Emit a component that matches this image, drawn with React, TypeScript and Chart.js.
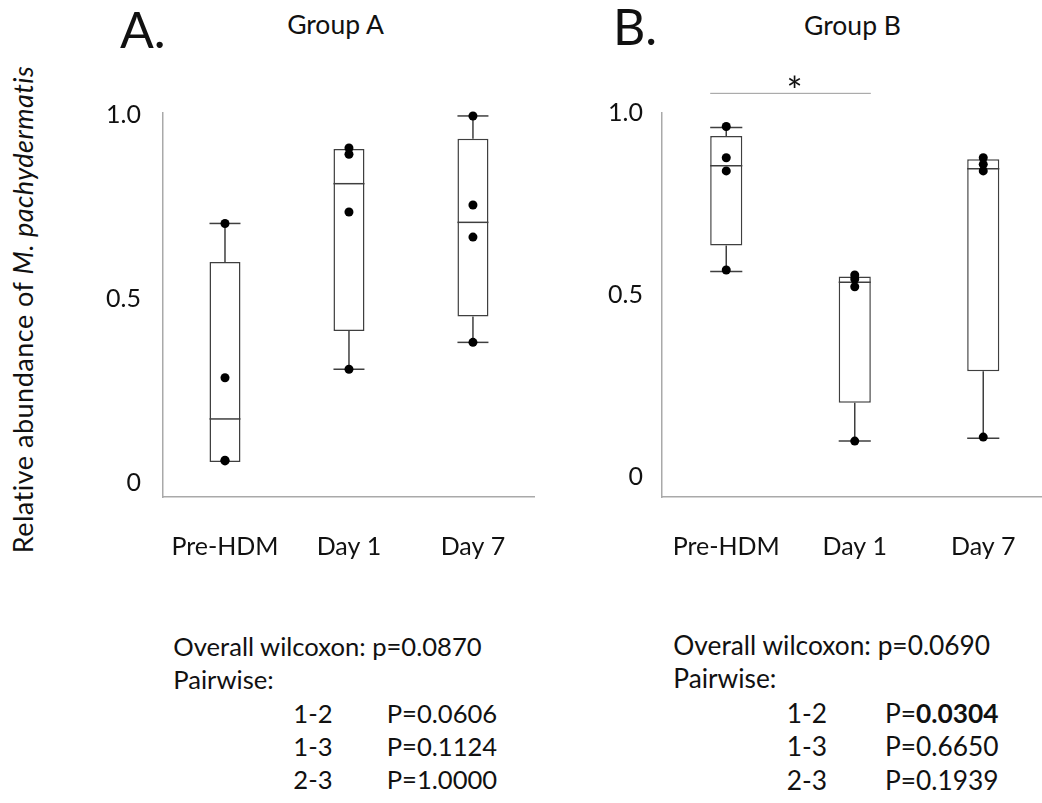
import React, { useEffect, useRef } from 'react';
import { Chart, registerables } from 'chart.js';

Chart.register(...registerables);

// ---------- data ----------
const categories = ['Pre-HDM', 'Day 1', 'Day 7'];
const yTickValues = [0, 0.5, 1.0];
const yTickLabels = ['0', '0.5', '1.0'];

// Group A box statistics
const aLow = [0.057, 0.309, 0.382];
const aQ1 = [0.057, 0.413, 0.452];
const aMedian = [0.174, 0.813, 0.708];
const aQ3 = [0.6, 0.907, 0.935];
const aHigh = [0.705, 0.907, 0.997];
// Group A observations
const aPreHDM = [0.705, 0.286, 0.062, 0.06];
const aDay1 = [0.91, 0.893, 0.736, 0.309];
const aDay7 = [0.997, 0.755, 0.668, 0.382];

// Group B box statistics
const bLow = [0.565, 0.099, 0.107];
const bQ1 = [0.636, 0.204, 0.291];
const bMedian = [0.855, 0.535, 0.847];
const bQ3 = [0.937, 0.551, 0.873];
const bHigh = [0.96, 0.551, 0.873];
// Group B observations
const bPreHDM = [0.963, 0.877, 0.841, 0.569];
const bDay1 = [0.555, 0.544, 0.523, 0.099];
const bDay7 = [0.877, 0.859, 0.841, 0.11];

// significance bracket (group B)
const bSigPair = [0, 1];
const bSigLevel = 1.054;
const bSigLabel = '*';

// statistics text
const pairLabels = ['1-2', '1-3', '2-3'];
const aOverallP = '0.0870';
const aPairP = ['0.0606', '0.1124', '1.0000'];
const bOverallP = '0.0690';
const bPairP = ['0.0304', '0.6650', '0.1939'];
const bPairBold = [true, false, false];

// ---------- styles ----------
const FONT = 'Lato';
const TEXT = '#111';
const AXIS = '#a9a9a9';
const BOX = '#3f3f3f';
const TICK_SIZE = 25;

const boxPlugin = {
  id: 'boxWhiskers',
  afterDatasetDraw(chart: any, args: any, opts: any) {
    if (args.meta.type !== 'bar' || !opts || !opts.median) return;
    const { ctx } = chart;
    const y = chart.scales.y;
    ctx.save();
    ctx.strokeStyle = BOX;
    ctx.lineWidth = 1.5;
    args.meta.data.forEach((bar: any, i: number) => {
      const { x, width } = bar.getProps(['x', 'width'], true);
      const l = x - width / 2;
      const r = x + width / 2;
      const line = (x1: number, y1: number, x2: number, y2: number) => {
        ctx.beginPath();
        ctx.moveTo(x1, y1);
        ctx.lineTo(x2, y2);
        ctx.stroke();
      };
      const ym = y.getPixelForValue(opts.median[i]);
      line(l, ym, r, ym);
      if (opts.high[i] > opts.q3[i]) {
        const yq = y.getPixelForValue(opts.q3[i]);
        const yh = y.getPixelForValue(opts.high[i]);
        line(x, yq, x, yh);
        line(l, yh, r, yh);
      }
      if (opts.low[i] < opts.q1[i]) {
        const yq = y.getPixelForValue(opts.q1[i]);
        const yl = y.getPixelForValue(opts.low[i]);
        line(x, yq, x, yl);
        line(l, yl, r, yl);
      }
    });
    ctx.restore();
  },
};

const sigPlugin = {
  id: 'sigBar',
  afterDraw(chart: any, _args: any, opts: any) {
    if (!opts || !opts.pair) return;
    const meta = chart.getDatasetMeta(1);
    const b0 = meta.data[opts.pair[0]].getProps(['x', 'width'], true);
    const b1 = meta.data[opts.pair[1]].getProps(['x', 'width'], true);
    const yy = chart.scales.y.getPixelForValue(opts.level);
    const { ctx } = chart;
    ctx.save();
    ctx.strokeStyle = '#9a9a9a';
    ctx.lineWidth = 1;
    ctx.beginPath();
    ctx.moveTo(b0.x - b0.width / 2, yy);
    ctx.lineTo(b1.x + b1.width / 2, yy);
    ctx.stroke();
    ctx.fillStyle = TEXT;
    ctx.font = `38px ${FONT}`;
    ctx.textAlign = 'center';
    ctx.textBaseline = 'alphabetic';
    ctx.fillText(opts.label, (b0.x - b0.width / 2 + b1.x + b1.width / 2) / 2 + 4, yy + 12);
    ctx.restore();
  },
};

type BoxProps = {
  left: number;
  width: number;
  yAxisWidth: number;
  yPad: number;
  yMin: number;
  yMax: number;
  low: number[];
  q1: number[];
  median: number[];
  q3: number[];
  high: number[];
  groups: number[][];
  sig?: any;
};

function BoxChart(p: BoxProps) {
  const ref = useRef<HTMLCanvasElement>(null);
  useEffect(() => {
    const points: any[] = [];
    p.groups.forEach((vals, i) => vals.forEach((v) => points.push({ x: categories[i], y: v })));
    const chart = new Chart(ref.current as HTMLCanvasElement, {
      type: 'bar',
      data: {
        labels: categories,
        datasets: [
          {
            type: 'line',
            data: points,
            showLine: false,
            pointRadius: 4.5,
            pointHoverRadius: 4.5,
            pointBackgroundColor: '#000',
            pointBorderColor: '#000',
            pointBorderWidth: 0,
            clip: false,
            order: 0,
          } as any,
          {
            type: 'bar',
            data: categories.map((_, i) => [p.q1[i], p.q3[i]]),
            backgroundColor: '#fff',
            borderColor: BOX,
            borderWidth: 1.5,
            borderSkipped: false,
            barPercentage: 0.25,
            categoryPercentage: 1,
            order: 1,
          } as any,
        ],
      },
      options: {
        animation: false,
        responsive: false,
        events: [],
        layout: { padding: { top: 53, bottom: 33, left: 0, right: 0 } },
        plugins: {
          legend: { display: false },
          tooltip: { enabled: false },
          boxWhiskers: { low: p.low, q1: p.q1, median: p.median, q3: p.q3, high: p.high },
          sigBar: p.sig || {},
        } as any,
        scales: {
          x: {
            type: 'category',
            offset: true,
            grid: { display: false, drawTicks: false },
            border: { display: true, color: AXIS, width: 1.5 },
            ticks: { font: { family: FONT, size: TICK_SIZE }, color: TEXT, padding: 35, maxRotation: 0, autoSkip: false },
            afterFit: (s: any) => {
              s.height = 70;
            },
          },
          y: {
            type: 'linear',
            min: p.yMin,
            max: p.yMax,
            grid: { display: false, drawTicks: false },
            border: { display: true, color: AXIS, width: 1.5 },
            ticks: {
              font: { family: FONT, size: TICK_SIZE },
              color: TEXT,
              padding: p.yPad,
              callback: (_v: any, i: number) => yTickLabels[i],
            },
            afterBuildTicks: (s: any) => {
              s.ticks = yTickValues.map((v) => ({ value: v }));
            },
            afterFit: (s: any) => {
              s.width = p.yAxisWidth;
            },
          },
        },
      } as any,
      plugins: [boxPlugin, sigPlugin],
    });
    return () => chart.destroy();
  }, []);
  return (
    <canvas
      ref={ref}
      width={p.width}
      height={540}
      style={{ position: 'absolute', left: p.left, top: 60, width: p.width, height: 540 }}
    />
  );
}

function Txt(props: { x: number; base: number; size: number; center?: boolean; children: any; style?: any }) {
  const { x, base, size, center, children, style } = props;
  return (
    <div
      style={{
        position: 'absolute',
        left: x,
        top: base - 0.887 * size,
        fontSize: size,
        lineHeight: `${size}px`,
        fontFamily: FONT,
        color: TEXT,
        whiteSpace: 'nowrap',
        transform: center ? 'translateX(-50%)' : undefined,
        ...style,
      }}
    >
      {children}
    </div>
  );
}

function Stats(props: { left: number; pairLeft: number; pLeft: number; base1: number; base2: number; size: number; overall: string; pvals: string[]; bold?: boolean[] }) {
  const rows = [723.3, 756.7, 790];
  return (
    <>
      <Txt x={props.left} base={props.base1} size={props.size}>
        Overall wilcoxon: p={props.overall}
      </Txt>
      <Txt x={props.left} base={props.base2} size={props.size}>
        Pairwise:
      </Txt>
      {pairLabels.map((lab, i) => (
        <React.Fragment key={lab}>
          <Txt x={props.pairLeft} base={rows[i]} size={props.size}>
            {lab}
          </Txt>
          <Txt x={props.pLeft} base={rows[i]} size={props.size}>
            P={props.bold && props.bold[i] ? <b>{props.pvals[i]}</b> : props.pvals[i]}
          </Txt>
        </React.Fragment>
      ))}
    </>
  );
}

export default function App() {
  return (
    <div style={{ position: 'absolute', left: 0, top: 0, width: 1042, height: 803, overflow: 'hidden', background: '#fff' }}>
      <Txt x={120} base={48} size={50}>A.</Txt>
      <Txt x={613} base={45} size={50}>B.</Txt>
      <Txt x={335.5} base={34.5} size={26.5} center>Group A</Txt>
      <Txt x={852.5} base={35.5} size={26.5} center>Group B</Txt>
      <div
        style={{
          position: 'absolute',
          left: 22 - 300,
          top: 309.5 - 13.5,
          width: 600,
          textAlign: 'center',
          fontSize: 27,
          lineHeight: '27px',
          letterSpacing: 0.5,
          fontFamily: FONT,
          color: TEXT,
          whiteSpace: 'nowrap',
          transform: 'rotate(-90deg)',
        }}
      >
        Relative abundance of <i>M. pachydermatis</i>
      </div>
      <BoxChart
        left={100}
        width={441}
        yAxisWidth={63}
        yPad={22}
        yMin={-0.038}
        yMax={1.005}
        low={aLow}
        q1={aQ1}
        median={aMedian}
        q3={aQ3}
        high={aHigh}
        groups={[aPreHDM, aDay1, aDay7]}
      />
      <BoxChart
        left={600}
        width={452}
        yAxisWidth={62}
        yPad={19}
        yMin={-0.0545}
        yMax={1.0}
        low={bLow}
        q1={bQ1}
        median={bMedian}
        q3={bQ3}
        high={bHigh}
        groups={[bPreHDM, bDay1, bDay7]}
        sig={{ pair: bSigPair, level: bSigLevel, label: bSigLabel }}
      />
      <Stats left={173.3} pairLeft={293.3} pLeft={386.7} base1={656.7} base2={690} size={25.6} overall={aOverallP} pvals={aPairP} />
      <Stats left={673.3} pairLeft={786.7} pLeft={885} base1={655} base2={688.3} size={26.3} overall={bOverallP} pvals={bPairP} bold={bPairBold} />
    </div>
  );
}
